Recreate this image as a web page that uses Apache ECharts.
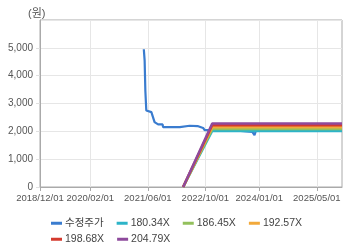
<!DOCTYPE html>
<html><head><meta charset="utf-8">
<script src="https://cdn.jsdelivr.net/npm/echarts@6/dist/echarts.min.js"></script>
<style>html,body{margin:0;padding:0;background:#fff}#c{width:360px;height:248px}</style>
</head><body><div id="c"></div>
<script>
// tick labels shown on the x axis
const tickLabels = ['2018/12/01','2020/02/01','2021/06/01','2022/10/01','2024/01/01','2025/05/01'];
// monthly category range of the axis
const axisStart = '2018-12-01';
const axisEnd = '2025-12-01';

// 수정주가 (adjusted price)
const priceDates = ['2021-04-28','2021-05-05','2021-05-11','2021-05-19','2021-07-01','2021-07-28','2021-08-27','2021-10-04','2021-10-08','2022-02-27','2022-03-12','2022-05-21','2022-07-27','2022-09-12','2022-09-25','2022-11-24','2023-04-24','2023-09-12','2023-11-03','2023-11-21','2023-12-01'];
const priceValues = [4950,4540,3460,2750,2690,2330,2250,2250,2150,2150,2220,2200,2190,2120,2040,2040,2050,2000,1980,1860,2000];

// PER band lines
const bandDates = ['2022-03-27','2022-11-28','2025-12-01'];
const band180 = [0, 2013, 2013];
const band186 = [0, 2081, 2081];
const band192 = [0, 2149, 2149];
const band198 = [0, 2217, 2217];
const band204 = [0, 2285, 2285];

const yTicks = [0, 1000, 2000, 3000, 4000, 5000, 6000];

// build monthly categories
const cats = [];
{
  let y = 2018, m = 12;
  while (true) {
    const s = y + '/' + String(m).padStart(2, '0') + '/01';
    cats.push(s);
    if (y === 2025 && m === 12) break;
    m++; if (m > 12) { m = 1; y++; }
  }
}
const showTick = (idx, val) => tickLabels.includes(cats[idx]);
const pairs = (d, v) => d.map((x, i) => [x, v[i]]);

const FONT = '"Liberation Sans", Arial, "Noto Sans CJK KR", sans-serif';
const colors = { price: '#3a7ccf', b180: '#2db4c8', b186: '#93c05c', b192: '#f2a93a', b198: '#d43a2e', b204: '#8e4a9c' };

const chart = echarts.init(document.getElementById('c'), null, { renderer: 'canvas' });
const lineSeries = (name, data, color, z, w) => ({
  name, type: 'line', xAxisIndex: 1, data, symbol: 'none', showSymbol: false,
  lineStyle: { color, width: w }, itemStyle: { color }, z, animation: false
});
chart.setOption({
  animation: false,
  title: { text: '(원)', left: 23, top: 3, textStyle: { fontSize: 11, fontWeight: 'normal', color: '#555', fontFamily: FONT } },
  grid: { left: 40, right: 18, top: 20, bottom: 61, show: true, borderColor: '#aaa', borderWidth: 1, backgroundColor: 'transparent' },
  legend: [
    { data: ['수정주가','180.34X','186.45X','192.57X'], left: 46, top: 213, itemWidth: 11, itemHeight: 3, itemGap: 13, icon: 'rect',
      textStyle: { fontSize: 10.5, color: '#444', fontFamily: FONT, padding: [0,0,0,-2] } },
    { data: ['198.68X','204.79X'], left: 46, top: 229, itemWidth: 11, itemHeight: 3, itemGap: 13, icon: 'rect',
      textStyle: { fontSize: 10.5, color: '#444', fontFamily: FONT, padding: [0,0,0,-2] } }
  ],
  xAxis: [
    { type: 'category', data: cats, boundaryGap: false,
      axisLine: { lineStyle: { color: '#aaa' } },
      axisTick: { show: true, interval: showTick, length: 4, lineStyle: { color: '#aaa' } },
      axisLabel: { interval: showTick, fontSize: 9.5, color: '#555', fontFamily: FONT, margin: 7 },
      splitLine: { show: true, interval: showTick, lineStyle: { color: '#e6e6e6' } } },
    { type: 'time', min: axisStart, max: axisEnd, show: false }
  ],
  yAxis: { type: 'value', min: yTicks[0], max: yTicks[yTicks.length - 1], interval: 1000,
    axisLine: { show: true, lineStyle: { color: '#aaa' } },
    axisTick: { show: true, length: 4, lineStyle: { color: '#e0e0e0' } },
    axisLabel: { fontSize: 10, color: '#555', fontFamily: FONT, margin: 7, showMaxLabel: false,
      formatter: v => v.toLocaleString('en-US') },
    splitLine: { show: true, lineStyle: { color: '#e6e6e6' } } },
  series: [
    lineSeries('수정주가', pairs(priceDates, priceValues), colors.price, 2, 2.2),
    lineSeries('180.34X', pairs(bandDates, band180), colors.b180, 3, 2.5),
    lineSeries('186.45X', pairs(bandDates, band186), colors.b186, 4, 2.5),
    lineSeries('192.57X', pairs(bandDates, band192), colors.b192, 5, 2.5),
    lineSeries('198.68X', pairs(bandDates, band198), colors.b198, 6, 2.5),
    lineSeries('204.79X', pairs(bandDates, band204), colors.b204, 7, 2.5)
  ]
});
</script></body></html>
